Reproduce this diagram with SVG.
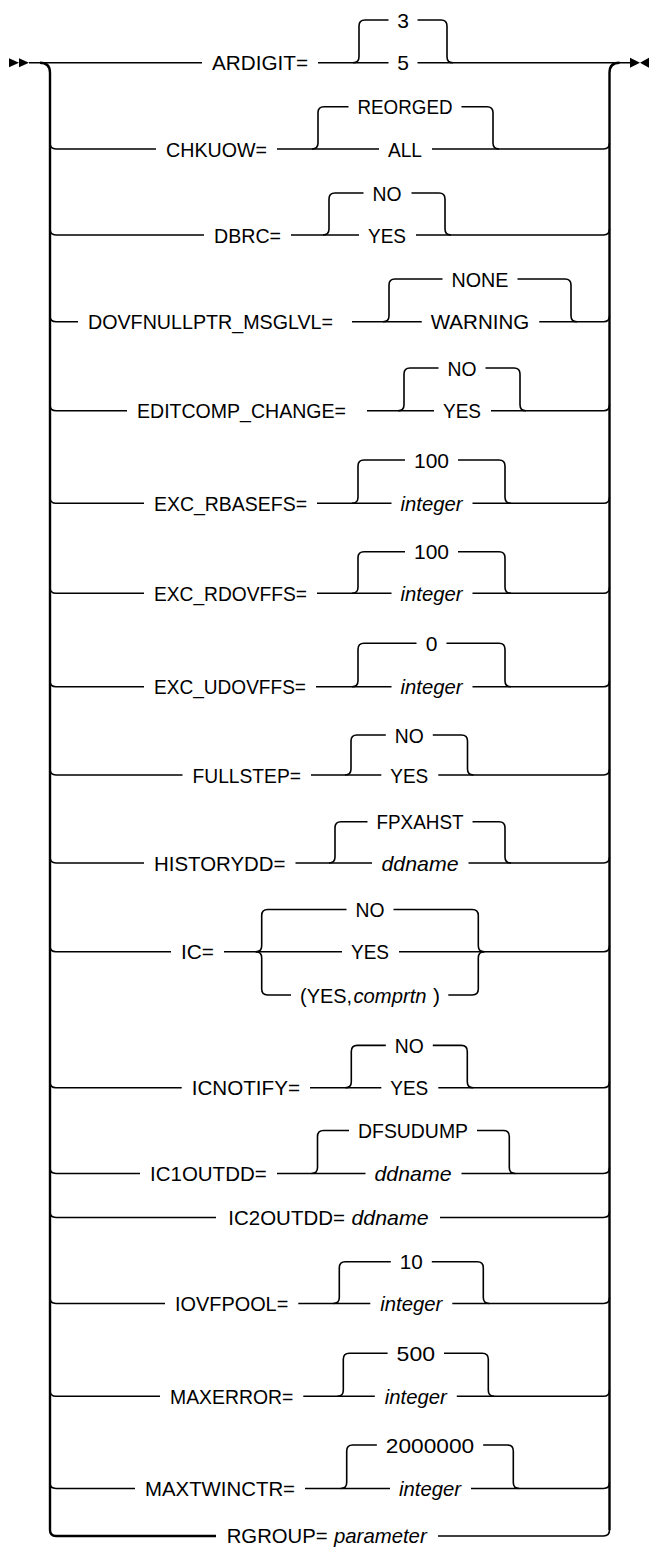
<svg xmlns="http://www.w3.org/2000/svg" width="649" height="1547" viewBox="0 0 649 1547">
<style>
.t{font-family:"Liberation Sans",Arial,sans-serif;font-size:21px;fill:#000}
.m{text-anchor:middle}
.i{font-style:italic}
.l{fill:none;stroke:#000;stroke-width:1.6}
.r{fill:none;stroke:#000;stroke-width:2.4}
.a{fill:#000;stroke:none}
</style>
<rect width="649" height="1547" fill="#fff"/>
<g id="connectors">
<path class="a" d="M9 58.2 L19 62.7 L9 67.2 Z M19 58.2 L29 62.7 L19 67.2 Z"/>
<path class="a" d="M630 57.7 L640 62.7 L630 67.7 Z M649 57.7 L640 62.7 L649 67.7 Z"/>
<path class="r" d="M40 62.7 Q50 62.7 50 72.7 V1530 Q50 1536 56 1536 H216"/>
<path class="r" d="M609.5 1530 V72.7 Q609.5 62.7 619.5 62.7"/>
<path class="l" d="M438 1536 H603.5 Q609.5 1536 609.5 1530"/>
<path class="l" d="M29 62.7 H202 M318 62.7 H388.5 M417.5 62.7 H630"/>
<path class="l" d="M353 62.7 Q359 62.7 359 56.7 V26 Q359 20 365 20 H388.5 M417.5 20 H441 Q447 20 447 26 V56.7 Q447 62.7 453 62.7"/>
<path class="l" d="M50 143 Q50 149 56 149 H156 M277 149 H379 M432 149 H603.5 Q609.5 149 609.5 143"/>
<path class="l" d="M312 149 Q318 149 318 143 V112.7 Q318 106.7 324 106.7 H348.5 M461.5 106.7 H487 Q493 106.7 493 112.7 V143 Q493 149 499 149"/>
<path class="l" d="M50 229 Q50 235 56 235 H204 M291 235 H359 M416 235 H603.5 Q609.5 235 609.5 229"/>
<path class="l" d="M323 235 Q329 235 329 229 V199 Q329 193 335 193 H363.5 M411.5 193 H439 Q445 193 445 199 V229 Q445 235 451 235"/>
<path class="l" d="M50 315.7 Q50 321.7 56 321.7 H78 M352 321.7 H421.75 M539.25 321.7 H603.5 Q609.5 321.7 609.5 315.7"/>
<path class="l" d="M383 321.7 Q389 321.7 389 315.7 V285 Q389 279 395 279 H442.5 M517.5 279 H565 Q571 279 571 285 V315.7 Q571 321.7 577 321.7"/>
<path class="l" d="M50 404.7 Q50 410.7 56 410.7 H127 M367 410.7 H434 M491 410.7 H603.5 Q609.5 410.7 609.5 404.7"/>
<path class="l" d="M398 410.7 Q404 410.7 404 404.7 V374 Q404 368 410 368 H438.5 M485.5 368 H514 Q520 368 520 374 V404.7 Q520 410.7 526 410.7"/>
<path class="l" d="M50 497.3 Q50 503.3 56 503.3 H144 M317 503.3 H391.5 M472.5 503.3 H603.5 Q609.5 503.3 609.5 497.3"/>
<path class="l" d="M352 503.3 Q358 503.3 358 497.3 V466 Q358 460 364 460 H405 M458 460 H499 Q505 460 505 466 V497.3 Q505 503.3 511 503.3"/>
<path class="l" d="M50 587.3 Q50 593.3 56 593.3 H144 M317 593.3 H391.5 M472.5 593.3 H603.5 Q609.5 593.3 609.5 587.3"/>
<path class="l" d="M352 593.3 Q358 593.3 358 587.3 V557.7 Q358 551.7 364 551.7 H405 M458 551.7 H499 Q505 551.7 505 557.7 V587.3 Q505 593.3 511 593.3"/>
<path class="l" d="M50 680.7 Q50 686.7 56 686.7 H144 M316 686.7 H391.5 M472.5 686.7 H603.5 Q609.5 686.7 609.5 680.7"/>
<path class="l" d="M352 686.7 Q358 686.7 358 680.7 V649.3 Q358 643.3 364 643.3 H416.5 M446.5 643.3 H499 Q505 643.3 505 649.3 V680.7 Q505 686.7 511 686.7"/>
<path class="l" d="M50 769 Q50 775 56 775 H182.5 M311 775 H381.3 M438.3 775 H603.5 Q609.5 775 609.5 769"/>
<path class="l" d="M345 775 Q351 775 351 769 V741 Q351 735 357 735 H385.8 M432.8 735 H461.5 Q467.5 735 467.5 741 V769 Q467.5 775 473.5 775"/>
<path class="l" d="M50 857 Q50 863 56 863 H144 M295.5 863 H372 M468.5 863 H603.5 Q609.5 863 609.5 857"/>
<path class="l" d="M329 863 Q335 863 335 857 V827.7 Q335 821.7 341 821.7 H367.5 M472.5 821.7 H499 Q505 821.7 505 827.7 V857 Q505 863 511 863"/>
<path class="l" d="M50 945.7 Q50 951.7 56 951.7 H171 M224 951.7 H342 M399 951.7 H603.5 Q609.5 951.7 609.5 945.7"/>
<path class="l" d="M255.7 951.7 Q261.7 951.7 261.7 945.7 V915.5 Q261.7 909.5 267.7 909.5 H346.5 M393.5 909.5 H472.3 Q478.3 909.5 478.3 915.5 V945.7 Q478.3 951.7 484.3 951.7"/>
<path class="l" d="M255.7 951.7 Q261.7 951.7 261.7 957.7 V989 Q261.7 995 267.7 995 H291 M448.3 995 H472.3 Q478.3 995 478.3 989 V957.7 Q478.3 951.7 484.3 951.7"/>
<path class="l" d="M50 1081.7 Q50 1087.7 56 1087.7 H181.7 M310 1087.7 H381.3 M438.3 1087.7 H603.5 Q609.5 1087.7 609.5 1081.7"/>
<path class="l" d="M345.3 1087.7 Q351.3 1087.7 351.3 1081.7 V1051.4 Q351.3 1045.4 357.3 1045.4 H385.8 M432.8 1045.4 H461.3 Q467.3 1045.4 467.3 1051.4 V1081.7 Q467.3 1087.7 473.3 1087.7"/>
<path class="l" d="M50 1167.5 Q50 1173.5 56 1173.5 H140 M277 1173.5 H365.5 M461.5 1173.5 H603.5 Q609.5 1173.5 609.5 1167.5"/>
<path class="l" d="M311.5 1173.5 Q317.5 1173.5 317.5 1167.5 V1136.5 Q317.5 1130.5 323.5 1130.5 H349 M477 1130.5 H503.3 Q509.3 1130.5 509.3 1136.5 V1167.5 Q509.3 1173.5 515.3 1173.5"/>
<path class="l" d="M50 1211.5 Q50 1217.5 56 1217.5 H216 M440 1217.5 H603.5 Q609.5 1217.5 609.5 1211.5"/>
<path class="l" d="M50 1297.5 Q50 1303.5 56 1303.5 H165 M298.3 1303.5 H370.3 M452.3 1303.5 H603.5 Q609.5 1303.5 609.5 1297.5"/>
<path class="l" d="M333.3 1303.5 Q339.3 1303.5 339.3 1297.5 V1267.7 Q339.3 1261.7 345.3 1261.7 H390.8 M431.8 1261.7 H477.3 Q483.3 1261.7 483.3 1267.7 V1297.5 Q483.3 1303.5 489.3 1303.5"/>
<path class="l" d="M50 1390.3 Q50 1396.3 56 1396.3 H160 M303.3 1396.3 H374.8 M456.8 1396.3 H603.5 Q609.5 1396.3 609.5 1390.3"/>
<path class="l" d="M337.3 1396.3 Q343.3 1396.3 343.3 1390.3 V1359.3 Q343.3 1353.3 349.3 1353.3 H387.6 M444 1353.3 H482.3 Q488.3 1353.3 488.3 1359.3 V1390.3 Q488.3 1396.3 494.3 1396.3"/>
<path class="l" d="M50 1482.5 Q50 1488.5 56 1488.5 H135 M305 1488.5 H390 M471 1488.5 H603.5 Q609.5 1488.5 609.5 1482.5"/>
<path class="l" d="M340.7 1488.5 Q346.7 1488.5 346.7 1482.5 V1451 Q346.7 1445 352.7 1445 H376.85 M483.15 1445 H507.3 Q513.3 1445 513.3 1451 V1482.5 Q513.3 1488.5 519.3 1488.5"/>
</g>
<g id="ARDIGIT">
<text class="t" x="212" y="70.2" textLength="96" lengthAdjust="spacingAndGlyphs">ARDIGIT=</text>
<text class="t m" x="403" y="27.5">3</text>
<text class="t m" x="403" y="70.2">5</text>
</g>
<g id="CHKUOW">
<text class="t" x="166" y="156.5" textLength="101" lengthAdjust="spacingAndGlyphs">CHKUOW=</text>
<text class="t m" x="405" y="114.2" textLength="95" lengthAdjust="spacingAndGlyphs">REORGED</text>
<text class="t m" x="405" y="156.5" textLength="34" lengthAdjust="spacingAndGlyphs">ALL</text>
</g>
<g id="DBRC">
<text class="t" x="214" y="242.5" textLength="67" lengthAdjust="spacingAndGlyphs">DBRC=</text>
<text class="t m" x="387" y="200.5" textLength="29" lengthAdjust="spacingAndGlyphs">NO</text>
<text class="t m" x="387" y="242.5" textLength="38" lengthAdjust="spacingAndGlyphs">YES</text>
</g>
<g id="DOVFNULLPTR_MSGLVL">
<text class="t" x="88" y="329.2" textLength="245" lengthAdjust="spacingAndGlyphs">DOVFNULLPTR_MSGLVL=</text>
<text class="t m" x="480" y="286.5" textLength="57" lengthAdjust="spacingAndGlyphs">NONE</text>
<text class="t m" x="480" y="329.2" textLength="98.5" lengthAdjust="spacingAndGlyphs">WARNING</text>
</g>
<g id="EDITCOMP_CHANGE">
<text class="t" x="137" y="418.2" textLength="209" lengthAdjust="spacingAndGlyphs">EDITCOMP_CHANGE=</text>
<text class="t m" x="462" y="375.5" textLength="29" lengthAdjust="spacingAndGlyphs">NO</text>
<text class="t m" x="462" y="418.2" textLength="38" lengthAdjust="spacingAndGlyphs">YES</text>
</g>
<g id="EXC_RBASEFS">
<text class="t" x="154" y="510.8" textLength="153" lengthAdjust="spacingAndGlyphs">EXC_RBASEFS=</text>
<text class="t m" x="431.5" y="467.5" textLength="35" lengthAdjust="spacingAndGlyphs">100</text>
<text class="t m i" x="431.5" y="510.8" textLength="62" lengthAdjust="spacingAndGlyphs">integer</text>
</g>
<g id="EXC_RDOVFFS">
<text class="t" x="154" y="600.8" textLength="153" lengthAdjust="spacingAndGlyphs">EXC_RDOVFFS=</text>
<text class="t m" x="431.5" y="559.2" textLength="35" lengthAdjust="spacingAndGlyphs">100</text>
<text class="t m i" x="431.5" y="600.8" textLength="62" lengthAdjust="spacingAndGlyphs">integer</text>
</g>
<g id="EXC_UDOVFFS">
<text class="t" x="154" y="694.2" textLength="152" lengthAdjust="spacingAndGlyphs">EXC_UDOVFFS=</text>
<text class="t m" x="431.5" y="650.8">0</text>
<text class="t m i" x="431.5" y="694.2" textLength="62" lengthAdjust="spacingAndGlyphs">integer</text>
</g>
<g id="FULLSTEP">
<text class="t" x="192.5" y="782.5" textLength="108.5" lengthAdjust="spacingAndGlyphs">FULLSTEP=</text>
<text class="t m" x="409.3" y="742.5" textLength="29" lengthAdjust="spacingAndGlyphs">NO</text>
<text class="t m" x="409.3" y="782.5" textLength="38" lengthAdjust="spacingAndGlyphs">YES</text>
</g>
<g id="HISTORYDD">
<text class="t" x="154" y="870.5" textLength="131.5" lengthAdjust="spacingAndGlyphs">HISTORYDD=</text>
<text class="t m" x="420" y="829.2" textLength="87" lengthAdjust="spacingAndGlyphs">FPXAHST</text>
<text class="t m i" x="420" y="870.5" textLength="77" lengthAdjust="spacingAndGlyphs">ddname</text>
</g>
<g id="IC">
<text class="t" x="181" y="959.2" textLength="33" lengthAdjust="spacingAndGlyphs">IC=</text>
<text class="t m" x="370" y="917" textLength="29" lengthAdjust="spacingAndGlyphs">NO</text>
<text class="t m" x="370" y="959.2" textLength="38" lengthAdjust="spacingAndGlyphs">YES</text>
<text class="t" x="300" y="1002.5" textLength="52" lengthAdjust="spacingAndGlyphs">(YES,</text>
<text class="t i" x="353.5" y="1002.5" textLength="73" lengthAdjust="spacingAndGlyphs">comprtn</text>
<text class="t" x="433" y="1002.5">)</text>
</g>
<g id="ICNOTIFY">
<text class="t" x="191.7" y="1095.2" textLength="108.3" lengthAdjust="spacingAndGlyphs">ICNOTIFY=</text>
<text class="t m" x="409.3" y="1052.9" textLength="29" lengthAdjust="spacingAndGlyphs">NO</text>
<text class="t m" x="409.3" y="1095.2" textLength="38" lengthAdjust="spacingAndGlyphs">YES</text>
</g>
<g id="IC1OUTDD">
<text class="t" x="150" y="1181" textLength="116.7" lengthAdjust="spacingAndGlyphs">IC1OUTDD=</text>
<text class="t m" x="413" y="1138" textLength="110" lengthAdjust="spacingAndGlyphs">DFSUDUMP</text>
<text class="t m i" x="413" y="1181" textLength="77" lengthAdjust="spacingAndGlyphs">ddname</text>
</g>
<g id="IC2OUTDD">
<text class="t" x="228.3" y="1225" textLength="116.7" lengthAdjust="spacingAndGlyphs">IC2OUTDD=</text>
<text class="t i" x="351.5" y="1225" textLength="77" lengthAdjust="spacingAndGlyphs">ddname</text>
</g>
<g id="IOVFPOOL">
<text class="t" x="175" y="1311" textLength="113.3" lengthAdjust="spacingAndGlyphs">IOVFPOOL=</text>
<text class="t m" x="411.3" y="1269.2" textLength="23" lengthAdjust="spacingAndGlyphs">10</text>
<text class="t m i" x="411.3" y="1311" textLength="62" lengthAdjust="spacingAndGlyphs">integer</text>
</g>
<g id="MAXERROR">
<text class="t" x="170" y="1403.8" textLength="123.3" lengthAdjust="spacingAndGlyphs">MAXERROR=</text>
<text class="t m" x="415.8" y="1360.8" textLength="38.4" lengthAdjust="spacingAndGlyphs">500</text>
<text class="t m i" x="415.8" y="1403.8" textLength="62" lengthAdjust="spacingAndGlyphs">integer</text>
</g>
<g id="MAXTWINCTR">
<text class="t" x="145" y="1496" textLength="150" lengthAdjust="spacingAndGlyphs">MAXTWINCTR=</text>
<text class="t m" x="430" y="1452.5" textLength="88.3" lengthAdjust="spacingAndGlyphs">2000000</text>
<text class="t m i" x="430" y="1496" textLength="62" lengthAdjust="spacingAndGlyphs">integer</text>
</g>
<g id="RGROUP">
<text class="t" x="226.7" y="1543.3" textLength="101" lengthAdjust="spacingAndGlyphs">RGROUP=</text>
<text class="t i" x="334" y="1543.3" textLength="92.7" lengthAdjust="spacingAndGlyphs">parameter</text>
</g>
</svg>
